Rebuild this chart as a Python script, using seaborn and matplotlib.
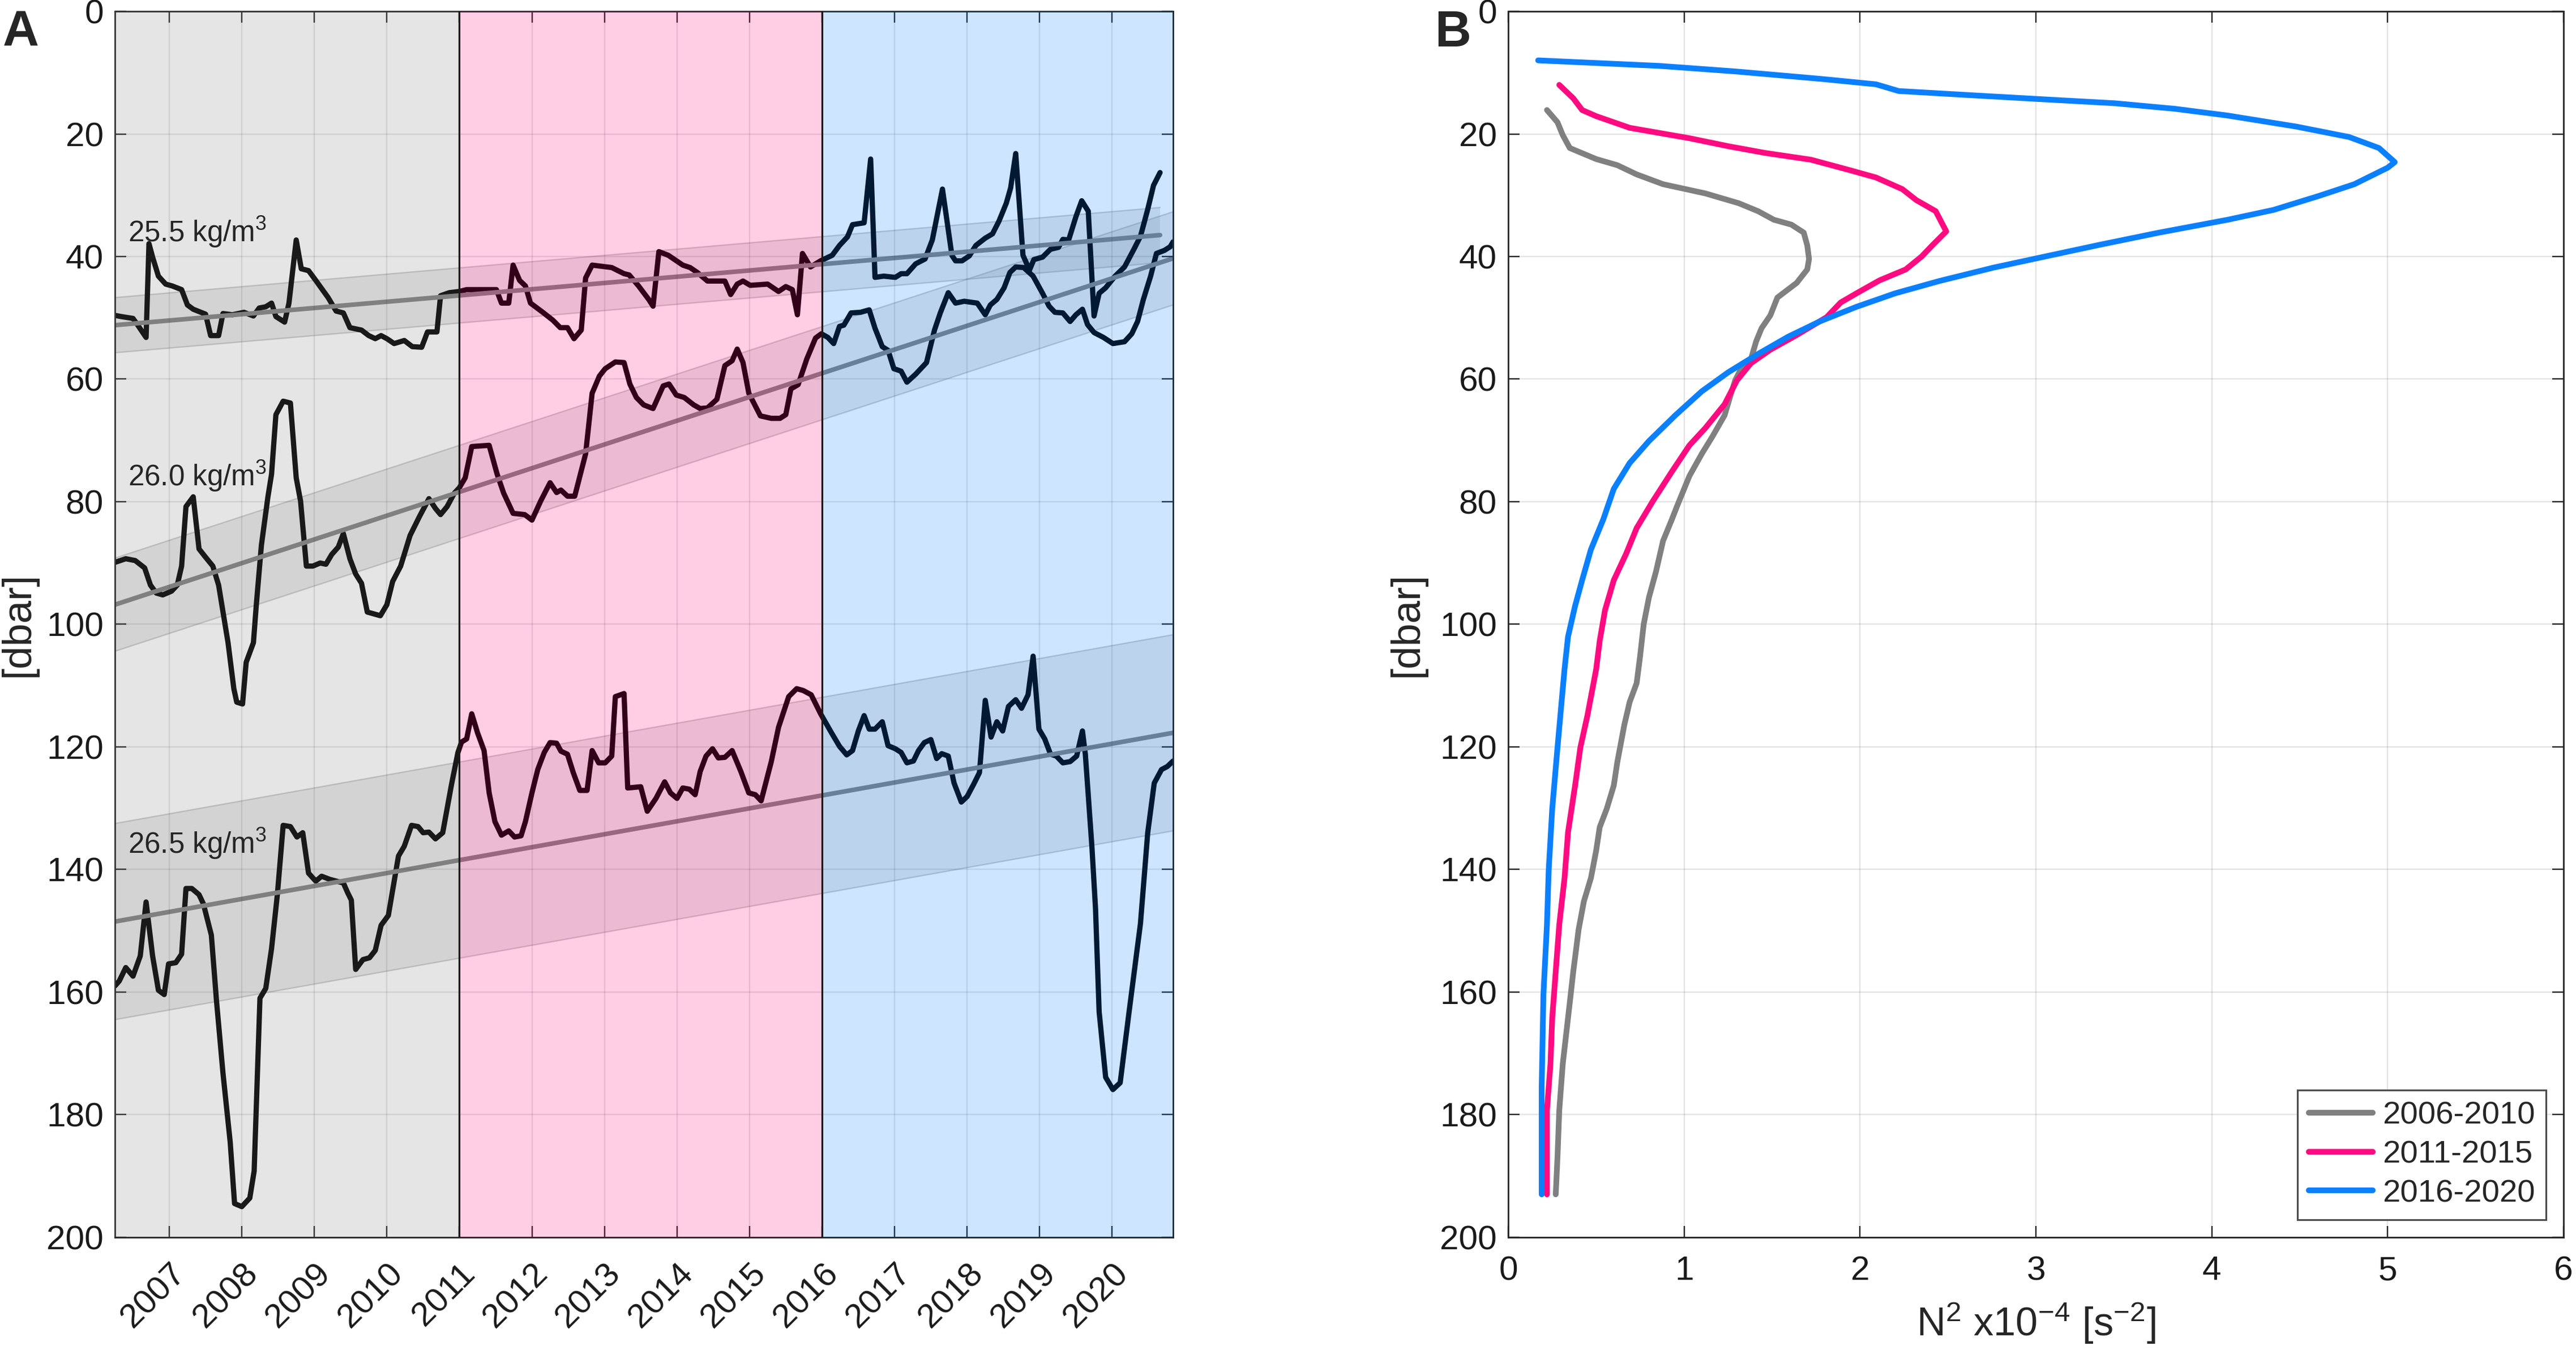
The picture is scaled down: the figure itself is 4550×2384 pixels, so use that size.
import numpy as np
import seaborn as sns
import matplotlib.pyplot as plt

sns.set_style('ticks')
plt.rcParams['font.family'] = ['Liberation Sans', 'DejaVu Sans']
plt.rcParams['mathtext.default'] = 'regular'

# ---- panel A: isopycnal depths (decimal year, dbar) ----
t_255 = [2006.25, 2006.34, 2006.50, 2006.56, 2006.68, 2006.72, 2006.77, 2006.85, 2006.95,
         2007.04, 2007.17, 2007.25, 2007.33, 2007.50, 2007.57, 2007.68, 2007.74, 2007.87,
         2008.03, 2008.16, 2008.24, 2008.33, 2008.41, 2008.47, 2008.59, 2008.65, 2008.75, 2008.82, 2008.92,
         2009.02, 2009.19, 2009.30, 2009.40, 2009.49, 2009.65, 2009.75, 2009.84, 2009.92,
         2010.00, 2010.10, 2010.24, 2010.35, 2010.48, 2010.56, 2010.69, 2010.74, 2010.86,
         2011.00, 2011.10, 2011.30, 2011.51, 2011.58, 2011.68, 2011.74, 2011.83, 2011.91, 2011.98,
         2012.15, 2012.29, 2012.39, 2012.49, 2012.58, 2012.68, 2012.74, 2012.83,
         2013.03, 2013.10, 2013.27, 2013.34, 2013.47, 2013.61, 2013.67, 2013.75, 2013.88,
         2014.08, 2014.18, 2014.28, 2014.42, 2014.66, 2014.74, 2014.83, 2014.91,
         2015.01, 2015.25, 2015.40, 2015.50, 2015.59, 2015.66, 2015.73, 2015.84, 2015.98,
         2016.14, 2016.24, 2016.35, 2016.42, 2016.58, 2016.67, 2016.73, 2016.85,
         2017.01, 2017.09, 2017.17, 2017.29, 2017.42, 2017.52, 2017.66, 2017.79, 2017.84, 2017.93,
         2018.03, 2018.12, 2018.25, 2018.35, 2018.44, 2018.54, 2018.60, 2018.67, 2018.77, 2018.86, 2018.92,
         2019.04, 2019.15, 2019.26, 2019.32, 2019.40, 2019.50, 2019.58, 2019.67, 2019.75, 2019.82, 2019.91,
         2020.04, 2020.17, 2020.30, 2020.39, 2020.49, 2020.57, 2020.66]
d_255 = [49.6, 49.8, 50.1, 51.1, 53.2, 37.9, 40.1, 43.2, 44.5,
         44.8, 45.4, 47.9, 48.6, 49.4, 52.9, 52.9, 49.3, 49.5,
         49.1, 49.7, 48.4, 48.2, 47.6, 49.8, 50.7, 47.6, 37.3, 42.0, 42.3,
         43.9, 46.7, 48.9, 49.2, 51.6, 52.0, 52.9, 53.4, 52.9,
         53.4, 54.2, 53.7, 54.7, 54.8, 52.3, 52.3, 46.4, 45.9,
         45.7, 45.4, 45.4, 45.4, 47.6, 47.6, 41.4, 43.9, 44.8, 47.6,
         49.1, 50.4, 51.6, 51.6, 53.4, 52.0, 43.5, 41.4,
         41.7, 41.8, 42.8, 43.0, 44.8, 47.0, 48.1, 39.2, 39.8,
         41.4, 41.8, 42.6, 44.0, 44.0, 46.2, 44.5, 44.0,
         44.7, 44.5, 45.7, 44.9, 45.4, 49.5, 39.5, 41.7, 40.7,
         39.8, 38.2, 36.8, 34.8, 34.5, 24.1, 43.4, 43.2,
         43.4, 42.8, 42.8, 41.2, 40.4, 37.3, 29.0, 39.8, 40.7, 40.7,
         39.9, 38.2, 37.0, 36.3, 34.2, 31.3, 28.8, 23.2, 39.8, 42.2, 40.5,
         40.1, 38.8, 38.5, 37.2, 37.3, 33.5, 30.9, 32.6, 49.7, 46.0, 45.1,
         43.2, 41.7, 38.8, 36.7, 32.3, 28.4, 26.3]

t_260 = [2006.25, 2006.40, 2006.53, 2006.66, 2006.74, 2006.82, 2006.91,
         2007.03, 2007.11, 2007.17, 2007.23, 2007.33, 2007.41, 2007.49, 2007.60, 2007.68, 2007.81, 2007.89, 2007.93,
         2008.01, 2008.06, 2008.16, 2008.20, 2008.27, 2008.36, 2008.41, 2008.47, 2008.57, 2008.67, 2008.75, 2008.81, 2008.89, 2008.98,
         2009.08, 2009.16, 2009.24, 2009.33, 2009.40, 2009.49, 2009.57, 2009.65, 2009.73, 2009.91,
         2010.00, 2010.08, 2010.19, 2010.32, 2010.45, 2010.58, 2010.67, 2010.74, 2010.83, 2010.93,
         2011.00, 2011.08, 2011.17, 2011.41, 2011.52, 2011.61, 2011.74, 2011.90,
         2012.00, 2012.12, 2012.25, 2012.34, 2012.40, 2012.49, 2012.59, 2012.74, 2012.83, 2012.93,
         2013.01, 2013.15, 2013.27, 2013.35, 2013.44, 2013.54, 2013.67, 2013.81, 2013.89, 2013.99,
         2014.10, 2014.23, 2014.32, 2014.42, 2014.55, 2014.66, 2014.76, 2014.83, 2014.91, 2014.99,
         2015.15, 2015.30, 2015.42, 2015.50, 2015.57, 2015.67, 2015.79, 2015.91, 2015.99,
         2016.08, 2016.16, 2016.24, 2016.30, 2016.40, 2016.53, 2016.65, 2016.73, 2016.83, 2016.91, 2016.99,
         2017.09, 2017.17, 2017.29, 2017.44, 2017.55, 2017.63, 2017.74, 2017.84, 2017.96,
         2018.14, 2018.25, 2018.32, 2018.41, 2018.51, 2018.59, 2018.67, 2018.78, 2018.91,
         2019.04, 2019.13, 2019.21, 2019.32, 2019.42, 2019.50, 2019.59, 2019.66, 2019.75, 2019.88,
         2020.01, 2020.17, 2020.27, 2020.35, 2020.43, 2020.53, 2020.61, 2020.72, 2020.80, 2020.84]
d_260 = [89.9, 89.3, 89.6, 90.8, 93.6, 94.9, 95.2,
         94.6, 93.6, 90.5, 80.8, 79.2, 87.7, 88.9, 90.5, 93.6, 103.0, 110.5, 112.7,
         113.0, 106.2, 103.0, 96.8, 87.1, 79.2, 75.5, 65.8, 63.6, 63.9, 76.1, 79.9, 90.5, 90.5,
         90.0, 90.2, 88.6, 87.4, 85.2, 89.3, 91.8, 93.3, 98.0, 98.6,
         96.8, 93.0, 90.5, 85.5, 82.4, 79.5, 81.1, 82.1, 80.8, 78.6,
         77.7, 76.1, 71.0, 70.8, 75.5, 78.6, 81.9, 82.1,
         83.0, 79.9, 76.9, 78.5, 78.1, 79.1, 79.1, 72.2, 62.3, 59.5,
         58.3, 57.2, 57.3, 60.8, 63.0, 64.2, 64.8, 61.1, 60.8, 62.6,
         63.0, 64.2, 64.8, 64.7, 63.3, 57.8, 57.0, 55.1, 57.3, 62.3,
         66.0, 66.4, 66.4, 65.8, 61.6, 60.9, 56.7, 53.3, 52.6,
         53.2, 54.2, 51.4, 51.2, 49.2, 49.1, 48.7, 51.7, 54.7, 55.3, 58.3,
         58.7, 60.5, 59.2, 57.3, 52.0, 49.2, 45.9, 47.6, 47.3,
         47.6, 49.5, 47.9, 47.0, 45.1, 42.6, 41.7, 41.8, 43.2,
         46.0, 48.1, 49.1, 49.2, 50.6, 49.5, 48.6, 51.1, 52.4, 53.2,
         54.2, 53.9, 52.6, 50.6, 47.0, 43.2, 39.5, 39.0, 38.4, 37.6]

t_265 = [2006.25, 2006.31, 2006.40, 2006.50, 2006.60, 2006.68, 2006.77, 2006.85, 2006.93, 2006.99,
         2007.09, 2007.17, 2007.23, 2007.31, 2007.41, 2007.47, 2007.58, 2007.65, 2007.74, 2007.84, 2007.90,
         2008.00, 2008.11, 2008.17, 2008.25, 2008.33, 2008.41, 2008.49, 2008.57, 2008.67, 2008.76, 2008.84, 2008.92,
         2009.02, 2009.10, 2009.21, 2009.40, 2009.46, 2009.51, 2009.57, 2009.67, 2009.76, 2009.84, 2009.92,
         2010.02, 2010.16, 2010.24, 2010.34, 2010.43, 2010.50, 2010.58, 2010.67, 2010.77, 2010.89, 2010.98,
         2011.03, 2011.10, 2011.17, 2011.25, 2011.34, 2011.41, 2011.49, 2011.58, 2011.68, 2011.76, 2011.85, 2011.91,
         2012.00, 2012.08, 2012.17, 2012.25, 2012.34, 2012.40, 2012.49, 2012.57, 2012.66, 2012.76, 2012.83, 2012.92,
         2013.01, 2013.10, 2013.15, 2013.27, 2013.32, 2013.50, 2013.59, 2013.71, 2013.83, 2013.91,
         2014.00, 2014.08, 2014.17, 2014.25, 2014.32, 2014.40, 2014.49, 2014.57, 2014.66, 2014.76, 2014.88, 2014.99,
         2015.08, 2015.16, 2015.30, 2015.40, 2015.54, 2015.65, 2015.74, 2015.85, 2015.98,
         2016.13, 2016.24, 2016.34, 2016.42, 2016.50, 2016.58, 2016.65, 2016.73, 2016.83, 2016.91,
         2017.01, 2017.09, 2017.17, 2017.26, 2017.33, 2017.41, 2017.50, 2017.58, 2017.65, 2017.74, 2017.82, 2017.92,
         2018.00, 2018.09, 2018.17, 2018.25, 2018.33, 2018.41, 2018.49, 2018.57, 2018.67, 2018.75, 2018.84, 2018.91, 2018.99,
         2019.07, 2019.15, 2019.23, 2019.32, 2019.42, 2019.51, 2019.59, 2019.63, 2019.72, 2019.77, 2019.82, 2019.91,
         2020.01, 2020.11, 2020.23, 2020.39, 2020.49, 2020.58, 2020.68, 2020.76, 2020.84]
d_265 = [159.0, 158.2, 156.0, 157.4, 154.1, 145.3, 154.1, 159.7, 160.4, 155.4,
         155.2, 153.8, 143.1, 143.1, 144.1, 145.6, 150.7, 161.3, 173.2, 184.5, 194.5,
         195.0, 193.6, 189.2, 161.0, 159.4, 152.9, 144.1, 132.8, 133.0, 134.7, 134.0, 140.6,
         141.9, 141.1, 141.6, 142.2, 143.8, 145.0, 156.3, 154.7, 154.4, 153.2, 149.1,
         147.5, 137.8, 136.2, 132.8, 133.0, 134.0, 133.9, 135.0, 134.0, 126.2, 120.9,
         119.2, 118.7, 114.6, 117.7, 120.6, 127.5, 132.2, 134.4, 133.7, 134.7, 134.5, 132.2,
         127.5, 123.7, 120.9, 119.3, 119.4, 120.7, 121.2, 124.2, 127.1, 127.1, 120.6, 122.6,
         122.6, 121.5, 111.8, 111.3, 126.7, 126.5, 130.5, 128.4, 125.7, 127.5,
         128.4, 126.7, 126.9, 127.8, 124.0, 121.5, 120.3, 121.8, 121.7, 120.6, 124.0, 127.5,
         127.8, 128.8, 122.4, 116.8, 111.8, 110.5, 110.8, 111.5, 114.6,
         117.7, 119.9, 121.3, 120.6, 117.4, 114.9, 117.1, 117.1, 115.9, 119.8,
         120.3, 120.9, 122.6, 122.3, 120.6, 119.3, 118.8, 121.9, 121.1, 121.5, 125.9, 129.0,
         128.1, 126.1, 124.2, 112.4, 118.4, 115.9, 117.4, 113.4, 112.3, 113.7, 111.5, 105.2, 117.1,
         118.7, 121.2, 121.5, 122.6, 122.4, 121.5, 117.4, 121.2, 136.2, 146.3, 163.2, 173.9,
         175.9, 174.8, 163.5, 148.8, 134.0, 125.9, 123.7, 123.2, 122.3]

# linear trends: [start year, end year], [start depth, end depth], half width of band
trend_t = {'25.5': [2006.25, 2020.66], '26.0': [2006.25, 2020.84], '26.5': [2006.25, 2020.84]}
trend_d = {'25.5': [51.2, 36.5], '26.0': [96.8, 40.3], '26.5': [148.5, 117.7]}
trend_hw = {'25.5': 4.5, '26.0': 7.6, '26.5': 16.0}
label_y = {'25.5': 37.6, '26.0': 77.4, '26.5': 137.4}

periods = ['2006-2010', '2011-2015', '2016-2020']
period_edges = [2006.25, 2011.0, 2016.0, 2020.84]
period_colors = ['#808080', '#ff0a80', '#0a80ff']

years = list(range(2007, 2021))

# ---- panel B: N2 profiles ----
depth_g = [16.1, 18.1, 20.2, 22.3, 24.1, 25.1, 26.6, 28.2, 29.7, 31.3, 32.6, 34.0, 34.8, 36.1, 38.2,
           40.4, 42.1, 44.3, 46.7, 49.6, 51.7, 53.8, 56.7, 57.4, 60.2, 63.0, 65.9, 69.4, 72.2, 75.8,
           78.6, 80.7, 82.9, 86.4, 91.4, 95.6, 100.0, 105.1, 109.6, 112.7, 116.4, 122.5, 126.3, 130.1,
           133.1, 136.9, 141.4, 145.2, 149.8, 156.6, 164.2, 171.7, 179.3, 186.9, 193.0]
n2_g = [0.22, 0.28, 0.31, 0.35, 0.50, 0.62, 0.73, 0.88, 1.12, 1.31, 1.42, 1.51, 1.61, 1.68, 1.70,
        1.71, 1.70, 1.64, 1.53, 1.49, 1.44, 1.41, 1.38, 1.34, 1.29, 1.26, 1.23, 1.16, 1.10, 1.03,
        0.99, 0.96, 0.93, 0.88, 0.84, 0.80, 0.77, 0.75, 0.73, 0.69, 0.66, 0.62, 0.60, 0.56,
        0.52, 0.50, 0.47, 0.43, 0.40, 0.37, 0.34, 0.31, 0.29, 0.28, 0.27]
depth_p = [12.0, 14.2, 16.1, 17.1, 19.0, 20.7, 22.0, 23.1, 24.2, 25.9, 27.1, 29.0, 30.8, 32.6, 35.9,
           38.2, 40.0, 42.1, 43.9, 46.0, 47.5, 49.9, 52.8, 55.2, 57.4, 60.2, 64.1, 68.0, 70.8, 75.1,
           80.0, 84.3, 88.5, 92.8, 97.7, 102.7, 107.3, 114.9, 120.1, 126.3, 133.9, 141.4, 149.0,
           156.6, 164.2, 171.7, 179.3, 186.9, 193.0]
n2_p = [0.29, 0.37, 0.42, 0.50, 0.69, 1.03, 1.25, 1.46, 1.72, 1.94, 2.09, 2.24, 2.32, 2.43, 2.49,
        2.41, 2.35, 2.26, 2.11, 1.98, 1.89, 1.81, 1.64, 1.49, 1.38, 1.30, 1.23, 1.12, 1.03, 0.93,
        0.82, 0.73, 0.67, 0.60, 0.55, 0.52, 0.50, 0.45, 0.41, 0.38, 0.34, 0.32, 0.29,
        0.27, 0.25, 0.24, 0.22, 0.22, 0.22]
depth_b = [8.0, 8.9, 9.8, 11.0, 11.9, 13.0, 13.6, 14.3, 15.0, 15.9, 17.0, 18.8, 20.5, 22.3, 24.6,
           25.5, 28.2, 30.1, 32.4, 34.0, 36.1, 38.1, 39.7, 41.8, 44.0, 46.0, 48.2, 50.6, 53.1, 55.9,
           58.9, 62.0, 65.9, 70.1, 73.7, 77.9, 82.9, 87.8, 92.8, 97.0, 102.0, 107.3, 120.1, 130.1,
           140.1, 149.0, 160.4, 175.5, 193.0]
n2_b = [0.17, 0.86, 1.29, 1.77, 2.09, 2.22, 2.58, 3.01, 3.45, 3.79, 4.09, 4.48, 4.78, 4.95, 5.04,
        5.00, 4.81, 4.61, 4.35, 4.09, 3.70, 3.36, 3.10, 2.76, 2.45, 2.20, 1.98, 1.77, 1.59, 1.42,
        1.25, 1.10, 0.95, 0.80, 0.69, 0.60, 0.54, 0.47, 0.42, 0.38, 0.34, 0.32, 0.28, 0.25,
        0.23, 0.22, 0.20, 0.19, 0.19]

fig = plt.figure(figsize=(4550 / 290, 2384 / 290), dpi=290)
ax1 = fig.add_axes([0.0446, 0.0835, 0.4108, 0.9081])
ax2 = fig.add_axes([0.5855, 0.0835, 0.4097, 0.9081])

tick_fs = 15
axc = '0.15'

# --- A ---
series = [('25.5', t_255, d_255), ('26.0', t_260, d_260), ('26.5', t_265, d_265)]
for name, t, d in series:
    tt = trend_t[name]
    td = trend_d[name]
    hw = trend_hw[name]
    ax1.fill_between(tt, [v - hw for v in td], [v + hw for v in td],
                     facecolor='0.5', alpha=0.18, edgecolor='none', zorder=1.2)
    ax1.plot(tt, [v - hw for v in td], color='0.5', alpha=0.35, lw=0.6, zorder=1.3)
    ax1.plot(tt, [v + hw for v in td], color='0.5', alpha=0.35, lw=0.6, zorder=1.3)
    sns.lineplot(x=t, y=d, ax=ax1, color='black', lw=2.3, sort=False, estimator=None, zorder=2)
    ax1.plot(tt, td, color='0.5', lw=2.0, zorder=2.2)
    ax1.text(2006.43, label_y[name], name + ' kg/m$^3$', fontsize=12.7, va='baseline',
             ha='left', zorder=6)

for i in range(3):
    ax1.axvspan(period_edges[i], period_edges[i + 1], color=period_colors[i],
                alpha=0.2, lw=0, zorder=3)
for x in period_edges[1:3]:
    ax1.axvline(x, color='0.1', lw=0.8, zorder=4)

ax1.set_xlim(period_edges[0], period_edges[-1])
ax1.set_ylim(200, 0)
ax1.set_yticks(range(0, 201, 20))
ax1.set_xticks(years)
ax1.set_xticklabels([str(y) for y in years])
plt.setp(ax1.get_xticklabels(), rotation=45, ha='right', va='top', rotation_mode='anchor')
ax1.set_ylabel('[dbar]', fontsize=18, labelpad=4)
ax1.set_xlabel('')

# --- B ---
profiles = [(n2_g, depth_g), (n2_p, depth_p), (n2_b, depth_b)]
for (n2, dep), lab, col in zip(profiles, periods, period_colors):
    sns.lineplot(x=n2, y=dep, ax=ax2, color=col, lw=2.5, sort=False, estimator=None,
                 label=lab, zorder=3)
ax2.set_xlim(0, 6)
ax2.set_ylim(200, 0)
ax2.set_yticks(range(0, 201, 20))
ax2.set_xticks(range(0, 7))
ax2.set_ylabel('[dbar]', fontsize=18, labelpad=6)
ax2.set_xlabel('N$^2$ x10$^{-4}$ [s$^{-2}$]', fontsize=17.5, labelpad=6)
leg = ax2.legend(loc='lower right', fontsize=14, frameon=True, fancybox=False,
                 framealpha=1, edgecolor='0.3', handlelength=2.0, handletextpad=0.3,
                 labelspacing=0.3, borderpad=0.35, borderaxespad=0.55)
leg.get_frame().set_linewidth(0.8)

for ax in (ax1, ax2):
    ax.grid(True, color='0.15', alpha=0.12, lw=0.6)
    ax.set_axisbelow(False)
    ax.tick_params(direction='in', top=True, right=True, length=5, width=0.6,
                   color=axc, labelsize=tick_fs, labelcolor='0.1', pad=5)
    for s in ax.spines.values():
        s.set_color(axc)
        s.set_linewidth(0.7)
    ax.set_facecolor('white')
ax1.tick_params(axis='x', pad=9)
ax2.tick_params(axis='x', pad=8)

fig.text(0.001, 0.993, 'A', fontsize=22, fontweight='bold', va='top', ha='left')
fig.text(0.557, 0.993, 'B', fontsize=22, fontweight='bold', va='top', ha='left')

fig.savefig('out.png', dpi=290, facecolor='white')
